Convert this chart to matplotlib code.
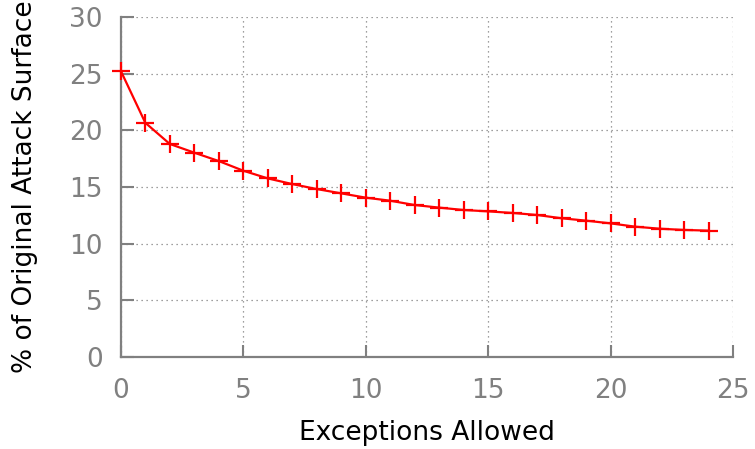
import matplotlib
matplotlib.use("Agg")
import matplotlib.pyplot as plt
import numpy as np

plt.rcParams["font.family"] = ["DejaVu Sans"]

exceptions = np.arange(0, 25)
surface_pct = [
    25.25, 20.67, 18.8, 18.03, 17.29, 16.44, 15.76, 15.26, 14.82, 14.44,
    14.06, 13.79, 13.41, 13.18, 12.97, 12.85, 12.71, 12.53, 12.24, 12.03,
    11.79, 11.5, 11.32, 11.21, 11.15,
]
x_ticks = [0, 5, 10, 15, 20, 25]
y_ticks = [0, 5, 10, 15, 20, 25, 30]

gray = "#808080"

fig = plt.figure(figsize=(7.55, 4.49), dpi=100)
ax = fig.add_axes([0.160, 0.205, 0.811, 0.757])

ax.plot(exceptions, surface_pct, color="red", linewidth=1.6, marker="+",
        markersize=13, markeredgewidth=1.6, clip_on=False, zorder=3)

ax.set_xlim(0, 25)
ax.set_ylim(0, 30)
ax.set_xticks(x_ticks)
ax.set_yticks(y_ticks)

ax.grid(True, linestyle=(0, (1, 3)), color=gray, linewidth=0.9)
for side in ["top", "right"]:
    ax.spines[side].set_visible(False)
for side in ["left", "bottom"]:
    ax.spines[side].set_color(gray)
    ax.spines[side].set_linewidth(1.6)

ax.tick_params(direction="in", length=9, width=1.5, color=gray,
               labelcolor=gray, labelsize=19)
ax.tick_params(axis="x", pad=15)
ax.tick_params(axis="y", pad=13)

ax.set_xlabel("Exceptions Allowed", fontsize=19)
ax.set_ylabel("% of Original Attack Surface", fontsize=19)
ax.xaxis.label.set_va("center")
ax.yaxis.label.set_va("center")
ax.xaxis.set_label_coords(0.5, -0.225)
ax.yaxis.set_label_coords(-0.156, 0.5)

fig.savefig("out.png", dpi=100)
